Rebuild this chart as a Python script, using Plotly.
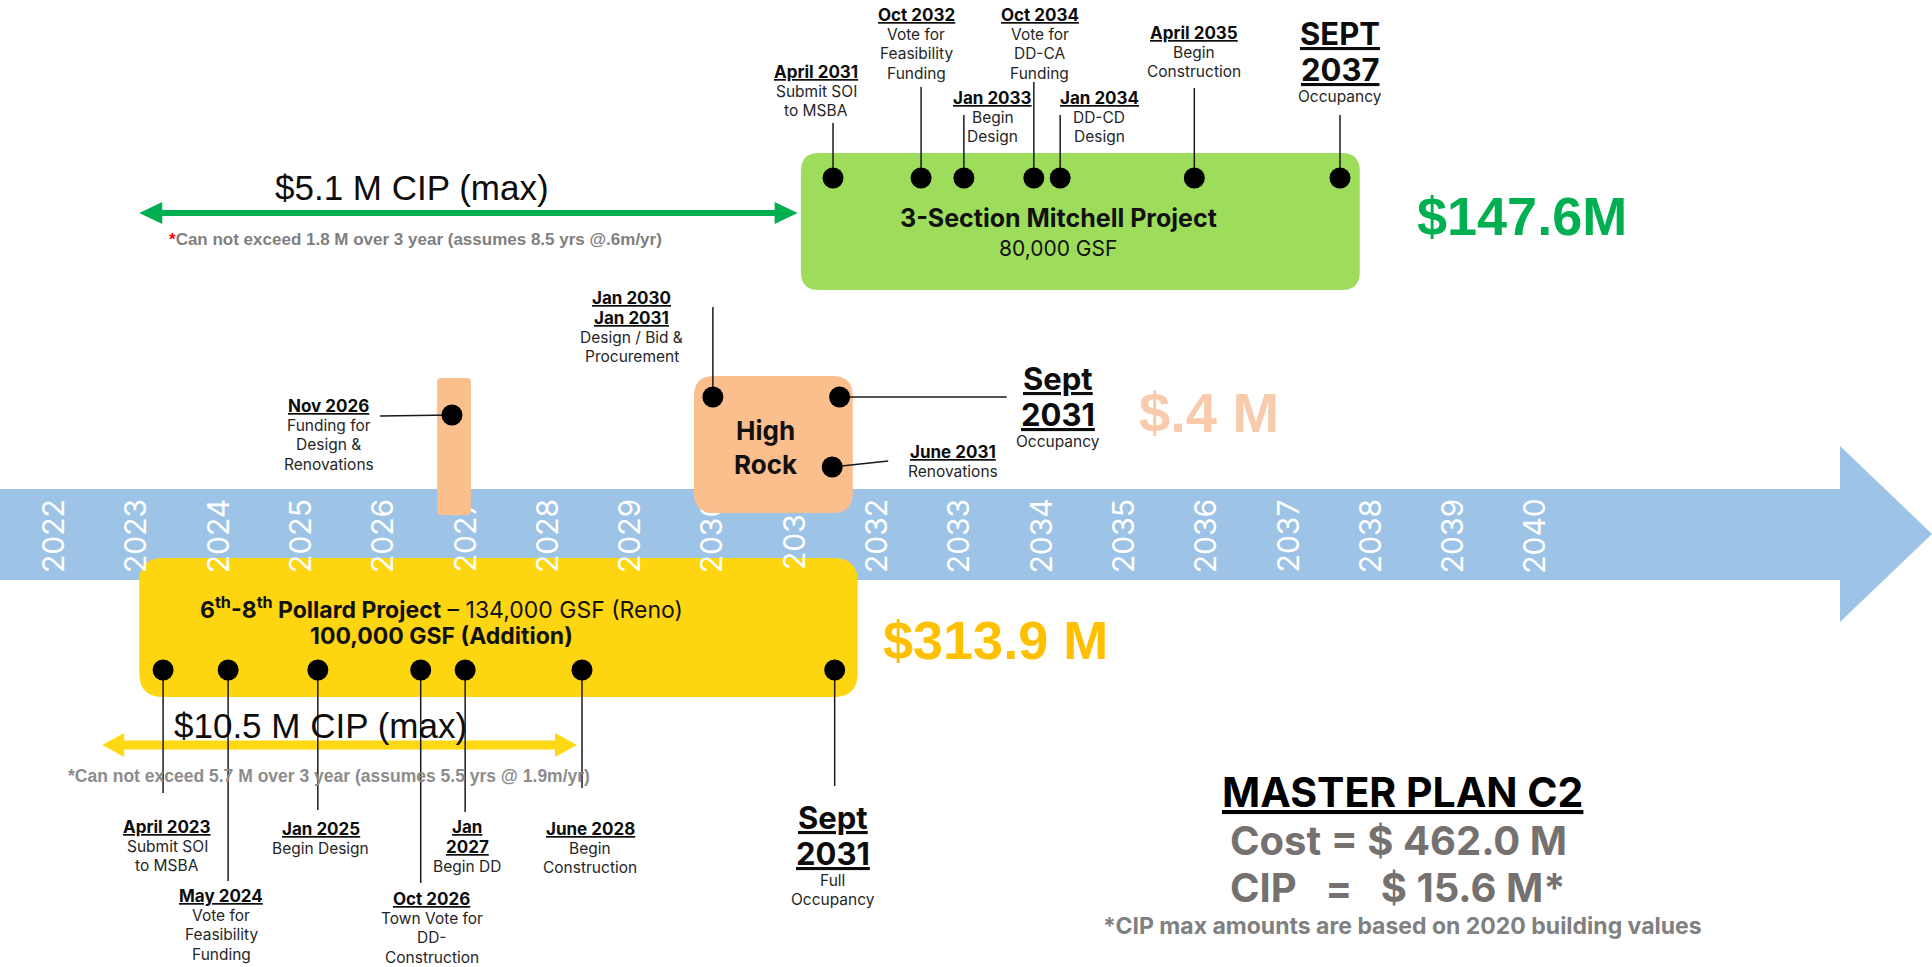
import plotly.graph_objects as go

W, H = 1932, 967

# ---------------- DATA ----------------
years = [2022, 2023, 2024, 2025, 2026, 2027, 2028, 2029, 2030, 2031,
         2032, 2033, 2034, 2035, 2036, 2037, 2038, 2039, 2040]

mitchell_pos = [2031.49, 2032.56, 2033.08, 2033.93, 2034.25, 2035.88, 2037.65]
mitchell_dates = [["April 2031"], ["Oct 2032"], ["Jan 2033"], ["Oct 2034"],
                  ["Jan 2034"], ["April 2035"], ["SEPT", "2037"]]
mitchell_desc = [["Submit SOI", "to MSBA"], ["Vote for", "Feasibility", "Funding"],
                 ["Begin", "Design"], ["Vote for", "DD-CA", "Funding"],
                 ["DD-CD", "Design"], ["Begin", "Construction"], ["Occupancy"]]

pollard_pos = [2023.35, 2024.14, 2025.23, 2026.48, 2027.02, 2028.44, 2031.51]
pollard_dates = [["April 2023"], ["May 2024"], ["Jan 2025"], ["Oct 2026"],
                 ["Jan", "2027"], ["June 2028"], ["Sept", "2031"]]
pollard_desc = [["Submit SOI", "to MSBA"], ["Vote for", "Feasibility", "Funding"],
                ["Begin Design"], ["Town Vote for", "DD-", "Construction"],
                ["Begin DD"], ["Begin", "Construction"], ["Full", "Occupancy"]]

highrock_pos = [2026.86, 2030.03, 2031.57, 2031.48]
highrock_dates = [["Nov 2026"], ["Jan 2030", "Jan 2031"], ["Sept", "2031"], ["June 2031"]]
highrock_desc = [["Funding for", "Design &", "Renovations"],
                 ["Design / Bid &", "Procurement"], ["Occupancy"], ["Renovations"]]

mitchell_span = [2031.10, 2037.89]
pollard_span = [2023.06, 2031.79]
highrock_span = [2029.80, 2031.73]
highrock_funding_span = [2026.68, 2027.09]
mitchell_cip_span = [2023.06, 2031.06]
pollard_cip_span = [2022.61, 2028.38]

project_titles = ["<b>3-Section Mitchell Project</b>", "80,000 GSF",
                  "<b>6<sup>th</sup>-8<sup>th</sup> Pollard Project</b> – 134,000 GSF (Reno)",
                  "<b>100,000 GSF (Addition)</b>", "<b>High<br>Rock</b>"]
project_costs = ["$147.6M", "$313.9 M", "$.4 M"]
cip_labels = ["$5.1 M CIP (max)", "$10.5 M CIP (max)"]
cip_notes = ["<span style='color:#FF0000'>*</span>Can not exceed 1.8 M over 3 year (assumes 8.5 yrs @.6m/yr)",
             "*Can not exceed 5.7 M over 3 year (assumes 5.5 yrs @ 1.9m/yr)"]
summary_lines = ["<b><u>MASTER PLAN C2</u></b>", "<b>Cost = $ 462.0 M</b>",
                 "<b>CIP \u00a0 = \u00a0 $ 15.6 M*</b>",
                 "<b>*CIP max amounts are based on 2020 building values</b>"]

# ---------------- LAYOUT CONSTANTS ----------------
X0_PX = 52.0          # pixel position of the 2022 label
PX_PER_YEAR = 82.3


def px2yr(px):
    return 2022 + (px - X0_PX) / PX_PER_YEAR


def dyr(dpx):
    return dpx / PX_PER_YEAR


FONT = "Inter, Lato, 'Open Sans', sans-serif"
ARIAL = "'Liberation Sans', Arial, sans-serif"
BAND_COL = "#9DC3E6"
GREEN_BOX = "#9EDD5B"
YELLOW_BOX = "#FED511"
PEACH = "#FBBE8D"

DATE_SIZE, DESC_SIZE, BIG_SIZE = 17, 15.5, 31
DATE_H, DESC_H, BIG_H = 20, 19.2, 36

MITCHELL_DOT_Y = 178
mitchell_dx = [-17, -5, 29, 6, 39, 0, 0]
mitchell_label_y = [72, 15, 98, 15, 98, 33, 33]
mitchell_line_top = [123, 87, 115, 82, 115, 88, 115]
mitchell_big = [False, False, False, False, False, False, True]

POLLARD_DOT_Y = 670
pollard_dx = [4, -7, 3, 11, 2, 8, -2]
pollard_label_y = [827, 896, 829, 899, 827, 829, 817]
pollard_line_end = [793, 881, 810, 883, 812, 788, 786]
pollard_big = [False, False, False, False, False, False, True]

highrock_dot_y = [415, 397, 397, 467]
highrock_dx = [-123, -81, 218, 121]
highrock_label_y = [406, 298, 378, 452]
highrock_line_dx = [-72, 0, 167, 56]
highrock_line_y = [416, 307, 397, 461]
highrock_big = [False, False, True, False]


def rrect(x0, x1, y0, y1, r):
    rx = dyr(r)
    return (f"M{x0 + rx},{y0} L{x1 - rx},{y0} Q{x1},{y0} {x1},{y0 + r} "
            f"L{x1},{y1 - r} Q{x1},{y1} {x1 - rx},{y1} L{x0 + rx},{y1} "
            f"Q{x0},{y1} {x0},{y1 - r} L{x0},{y0 + r} Q{x0},{y0} {x0 + rx},{y0} Z")


shapes = []
annotations = []


def shp(**kw):
    d = dict(xref="x", yref="y", layer="below", line=dict(width=0))
    d.update(kw)
    shapes.append(d)


# timeline band + arrow head
shp(type="rect", x0=px2yr(0), x1=px2yr(1840), y0=489, y1=580, fillcolor=BAND_COL)
shp(type="path", path=f"M{px2yr(1840)},446 L{px2yr(1932)},534 L{px2yr(1840)},622 Z",
    fillcolor=BAND_COL)

# Pollard box (under the year labels)
shp(type="path", path=rrect(pollard_span[0], pollard_span[1], 558, 697, 24), fillcolor=YELLOW_BOX)

# year labels
for yv in years:
    shp(type="rect", x0=yv - 0.3, x1=yv + 0.3, y0=494, y1=578,
        fillcolor="rgba(0,0,0,0)",
        label=dict(text=str(yv), textangle=-90, textposition="middle center",
                   font=dict(family=FONT, size=30, color="white")))

# High Rock shapes (over the year labels)
shp(type="path", path=rrect(highrock_funding_span[0], highrock_funding_span[1], 378, 515, 4),
    fillcolor=PEACH)
shp(type="path", path=rrect(highrock_span[0], highrock_span[1], 376, 513, 20), fillcolor=PEACH)

# Mitchell box
shp(type="path", path=rrect(mitchell_span[0], mitchell_span[1], 153, 290, 18), fillcolor=GREEN_BOX)


def double_arrow(span, y, shaft, head_len, head_h, color):
    hl = dyr(head_len)
    x0, x1 = span
    shp(type="rect", x0=x0 + hl * 0.9, x1=x1 - hl * 0.9, y0=y - shaft / 2, y1=y + shaft / 2,
        fillcolor=color)
    shp(type="path", path=f"M{x0},{y} L{x0 + hl},{y - head_h / 2} L{x0 + hl},{y + head_h / 2} Z",
        fillcolor=color)
    shp(type="path", path=f"M{x1},{y} L{x1 - hl},{y - head_h / 2} L{x1 - hl},{y + head_h / 2} Z",
        fillcolor=color)


double_arrow(mitchell_cip_span, 213, 6, 23, 22, "#00B050")
double_arrow(pollard_cip_span, 745, 9, 22, 24, "#FFD814")


def ann(text, x, y, size, color="#1a1a1a", xref="x", xshift=0, xanchor="center", family=FONT):
    annotations.append(dict(text=text, x=x, y=y, xref=xref, yref="y", showarrow=False,
                            xanchor=xanchor, yanchor="middle", xshift=xshift,
                            font=dict(family=family, size=size, color=color)))


def milestone_label(x, dx, y_first, dates, desc, big):
    y = y_first
    prev_h = None
    for t in dates:
        h = BIG_H if big else DATE_H
        if prev_h is not None:
            y += (prev_h + h) / 2
        ann(f"<b><u>{t}</u></b>", x, y, BIG_SIZE if big else DATE_SIZE, "#0d0d0d", xshift=dx)
        prev_h = h
    for t in desc:
        h = DESC_H
        y += (prev_h + h) / 2
        ann(t, x, y, DESC_SIZE, "#262626", xshift=dx)
        prev_h = h


for i, p in enumerate(mitchell_pos):
    milestone_label(p, mitchell_dx[i], mitchell_label_y[i], mitchell_dates[i],
                    mitchell_desc[i], mitchell_big[i])
for i, p in enumerate(pollard_pos):
    milestone_label(p, pollard_dx[i], pollard_label_y[i], pollard_dates[i],
                    pollard_desc[i], pollard_big[i])
for i, p in enumerate(highrock_pos):
    milestone_label(p, highrock_dx[i], highrock_label_y[i], highrock_dates[i],
                    highrock_desc[i], highrock_big[i])

# leader lines
lx, ly = [], []
for i, p in enumerate(mitchell_pos):
    lx += [p, p, None]
    ly += [MITCHELL_DOT_Y, mitchell_line_top[i], None]
for i, p in enumerate(pollard_pos):
    lx += [p, p, None]
    ly += [POLLARD_DOT_Y, pollard_line_end[i], None]
for i, p in enumerate(highrock_pos):
    lx += [p, p + dyr(highrock_line_dx[i]), None]
    ly += [highrock_dot_y[i], highrock_line_y[i], None]

fig = go.Figure()
fig.add_trace(go.Scatter(x=lx, y=ly, mode="lines", line=dict(color="#1a1a1a", width=1.5),
                         hoverinfo="skip", showlegend=False))
dot = dict(size=21, color="black")
fig.add_trace(go.Scatter(x=mitchell_pos, y=[MITCHELL_DOT_Y] * len(mitchell_pos), mode="markers",
                         marker=dot, showlegend=False, hoverinfo="skip"))
fig.add_trace(go.Scatter(x=pollard_pos, y=[POLLARD_DOT_Y] * len(pollard_pos), mode="markers",
                         marker=dot, showlegend=False, hoverinfo="skip"))
fig.add_trace(go.Scatter(x=highrock_pos, y=highrock_dot_y, mode="markers",
                         marker=dot, showlegend=False, hoverinfo="skip"))

# project titles
ann(project_titles[0], sum(mitchell_span) / 2, 218, 25, "#111", xshift=-22)
ann(project_titles[1], sum(mitchell_span) / 2, 248, 21, "#111", xshift=-22)
ann(project_titles[2], sum(pollard_span) / 2, 608, 23, "#111", xshift=-57)
ann(project_titles[3], sum(pollard_span) / 2, 636, 23, "#111", xshift=-57)
ann(project_titles[4], sum(highrock_span) / 2, 447, 26, "#111", xshift=-8)

# costs
ann(f"<b>{project_costs[0]}</b>", 1522 / W, 216, 54, "#00B050", xref="paper", family=ARIAL)
ann(f"<b>{project_costs[1]}</b>", 995 / W, 640, 54, "#FFC000", xref="paper", family=ARIAL)
ann(f"<b>{project_costs[2]}</b>", 1209 / W, 412, 56, "#F8CBAD", xref="paper", family=ARIAL)

# CIP texts
ann(cip_labels[0], 412 / W, 187, 35, "#0d0d0d", xref="paper", family=ARIAL)
ann(cip_labels[1], 320 / W, 725, 35, "#0d0d0d", xref="paper", family=ARIAL)
ann(f"<b>{cip_notes[0]}</b>", 167 / W, 239, 17, "#7F7F7F", xref="paper", xanchor="left", family=ARIAL)
ann(f"<b>{cip_notes[1]}</b>", 66 / W, 776, 17.5, "#8C8C8C", xref="paper", xanchor="left", family=ARIAL)

# summary
ann(summary_lines[0], 1402 / W, 792, 41, "#000000", xref="paper")
ann(summary_lines[1], 1398 / W, 840, 40, "#767171", xref="paper")
ann(summary_lines[2], 1398 / W, 887, 40, "#767171", xref="paper")
ann(summary_lines[3], 1402 / W, 926, 23, "#808080", xref="paper")

fig.update_layout(
    width=W, height=H, margin=dict(l=0, r=0, t=0, b=0),
    paper_bgcolor="white", plot_bgcolor="white",
    xaxis=dict(range=[px2yr(0), px2yr(W)], visible=False, fixedrange=True),
    yaxis=dict(range=[H, 0], visible=False, fixedrange=True),
    shapes=shapes, annotations=annotations, showlegend=False,
)

fig.write_html("out.html", config={"displayModeBar": False},
               post_script="document.body.style.margin='0';document.body.style.overflow='hidden';")
